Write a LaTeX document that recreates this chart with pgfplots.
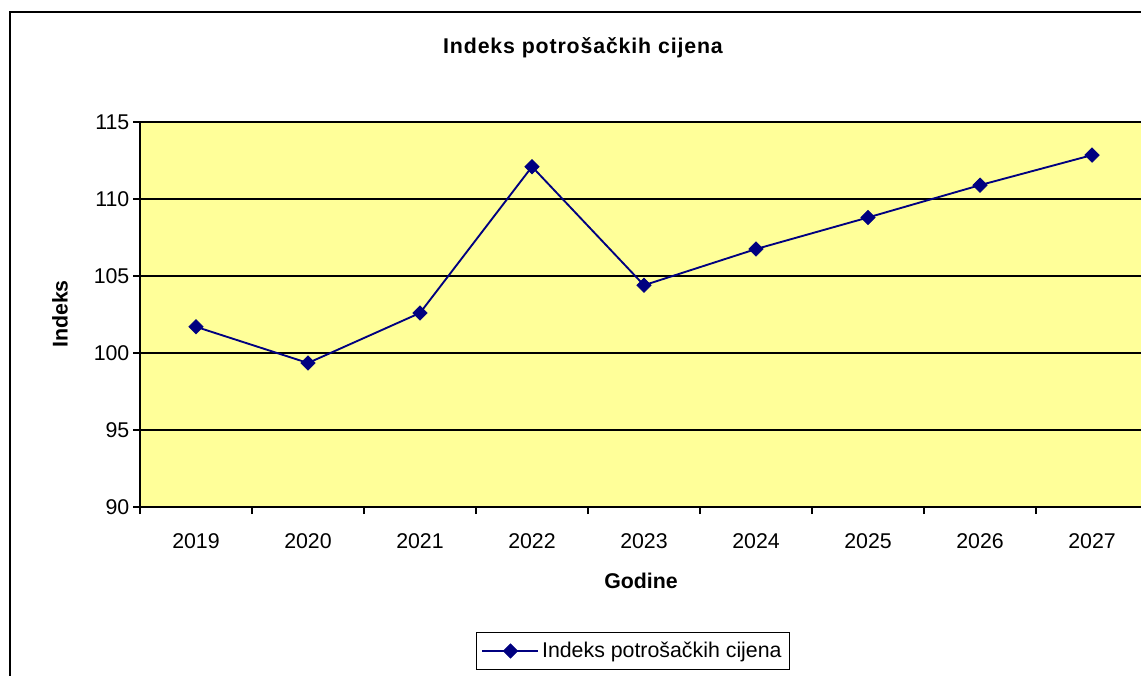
\documentclass[border=0pt]{standalone}
\usepackage{fontspec}
\setmainfont{Liberation Sans}
\usepackage{pgfplots}
\pgfplotsset{compat=1.18}
\definecolor{plotbg}{HTML}{FFFF99}
\definecolor{navyline}{RGB}{0,0,128}
\newcommand{\bigf}{\fontsize{16}{19}\selectfont}
\begin{document}
\begin{tikzpicture}
\useasboundingbox (0,0) rectangle (855.75pt,506.25pt);
\clip (0,0) rectangle (855.75pt,506.25pt);
\fill[white] (0,0) rectangle (855.75pt,506.25pt);
\draw[black, line width=1.6pt] (7.5pt,-20pt) rectangle (900pt,497.25pt);
\node[font=\bigf\bfseries] at (437.25pt,470.25pt) {\addfontfeatures{LetterSpace=4}Indeks potrošačkih cijena};
\node[font=\bigf\bfseries, rotate=90] at (45pt,270.75pt) {Indeks};
\node[font=\bigf\bfseries] at (480.75pt,70.5pt) {Godine};
\begin{axis}[
  at={(105pt,126pt)}, anchor=south west,
  scale only axis,
  width=756pt, height=288.75pt,
  xmin=0.5, xmax=9.5, ymin=90, ymax=115,
  axis background/.style={fill=plotbg},
  axis line style={black, line width=1.3pt},
  xtick={0.5,1.5,...,9.5},
  xticklabels={2019,2020,2021,2022,2023,2024,2025,2026,2027},
  x tick label as interval,
  ytick={90,95,...,115},
  tick align=outside,
  major tick length=5.25pt,
  tick style={black, line width=1.3pt},
  xtick pos=bottom, ytick pos=left,
  ymajorgrids,
  major grid style={black, line width=1.3pt},
  /pgf/number format/assume math mode=true,
  tick label style={font=\bigf},
  xticklabel style={yshift=-11.5pt},
  yticklabel style={xshift=0.8pt},
  legend style={at={(0.489,-0.374)}, anchor=center, draw=black, line width=1pt,
    font=\bigf, inner xsep=4pt, inner ysep=5.5pt, legend cell align=left},
  legend image code/.code={\draw[#1, mark repeat=2, mark phase=2] plot coordinates {(0pt,0pt) (21pt,0pt) (42pt,0pt)};},
]
\addplot[color=navyline, line width=1.4pt, mark=square*, mark size=3.8pt, mark options={fill=navyline, draw=navyline, line width=0.5pt, rotate=45}]
  coordinates {
  (1,101.7) (2,99.35) (3,102.6) (4,112.1) (5,104.4) (6,106.75) (7,108.8) (8,110.9) (9,112.85)
  };
\addlegendentry{Indeks potrošačkih cijena}
\end{axis}
\end{tikzpicture}
\end{document}
